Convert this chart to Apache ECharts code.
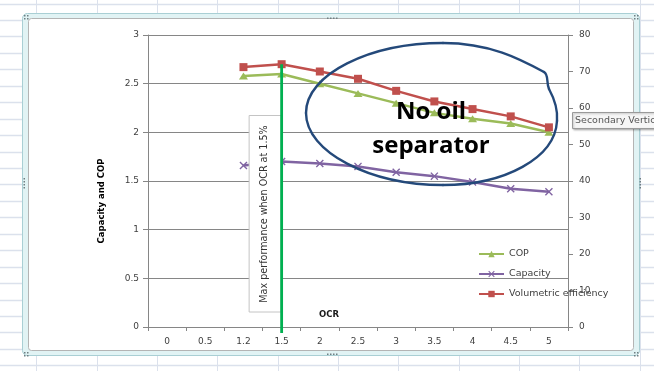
<!DOCTYPE html>
<html>
<head>
<meta charset="utf-8">
<script src="https://cdn.jsdelivr.net/npm/echarts@6/dist/echarts.min.js"></script>
<style>
  html, body { margin: 0; padding: 0; background: #ffffff; }
  #chart { width: 654px; height: 371px; }
</style>
</head>
<body>
<div id="chart"></div>
<script>
// Oil circulation ratio (OCR, %) categories
const ocr = ['0', '0.5', '1.2', '1.5', '2', '2.5', '3', '3.5', '4', '4.5', '5'];
// Coefficient of performance (left axis)
const cop = [null, null, 2.58, 2.60, 2.50, 2.40, 2.30, 2.20, 2.14, 2.09, 2.00];
// Cooling capacity (left axis)
const capacity = [null, null, 1.66, 1.70, 1.68, 1.65, 1.59, 1.55, 1.49, 1.42, 1.39];
// Volumetric efficiency, % (right axis)
const volEff = [null, null, 71.2, 72.0, 70.0, 68.0, 64.7, 61.8, 59.7, 57.7, 54.7];
// Value axis ranges
const leftRange = [0, 3, 0.5];
const rightRange = [0, 80, 10];

const FONT = 'DejaVu Sans';
const AXIS_GREY = '#868686';
const TEXT = '#404040';
const xMark = 'path://M0,1.2L1.2,0L5,3.8L8.8,0L10,1.2L6.2,5L10,8.8L8.8,10L5,6.2L1.2,10L0,8.8L3.8,5Z';

const chart = echarts.init(document.getElementById('chart'), null, { renderer: 'canvas' });

const option = {
  animation: false,
  backgroundColor: 'transparent',
  grid: { left: 148, top: 35, right: 86, bottom: 44, containLabel: false },
  legend: {
    orient: 'vertical',
    left: 473,
    top: 243,
    itemWidth: 25,
    itemHeight: 8,
    itemGap: 8,
    textStyle: { fontFamily: FONT, fontSize: 9.5, color: TEXT, lineHeight: 12 },
    data: ['COP', 'Capacity', 'Volumetric efficiency']
  },
  xAxis: {
    type: 'category',
    data: ocr,
    boundaryGap: true,
    axisLine: { show: true, lineStyle: { color: AXIS_GREY, width: 1 } },
    axisTick: { show: true, length: 4, alignWithLabel: false, lineStyle: { color: AXIS_GREY } },
    axisLabel: { fontFamily: FONT, fontSize: 9, color: TEXT, margin: 10, interval: 0 },
    splitLine: { show: false }
  },
  yAxis: [
    {
      type: 'value',
      min: leftRange[0], max: leftRange[1], interval: leftRange[2],
      position: 'left',
      axisLine: { show: true, lineStyle: { color: AXIS_GREY, width: 1 } },
      axisTick: { show: true, length: 5, lineStyle: { color: AXIS_GREY } },
      axisLabel: { fontFamily: FONT, fontSize: 9, color: TEXT, margin: 9 },
      splitLine: { show: true, lineStyle: { color: AXIS_GREY, width: 1 } }
    },
    {
      type: 'value',
      min: rightRange[0], max: rightRange[1], interval: rightRange[2],
      position: 'right',
      axisLine: { show: true, lineStyle: { color: AXIS_GREY, width: 1 } },
      axisTick: { show: true, length: 5, lineStyle: { color: AXIS_GREY } },
      axisLabel: { fontFamily: FONT, fontSize: 9, color: TEXT, margin: 11 },
      splitLine: { show: false }
    }
  ],
  series: [
    {
      name: 'COP', type: 'line', yAxisIndex: 0, data: cop,
      symbol: 'triangle', symbolSize: [9, 7],
      lineStyle: { color: '#9BBB59', width: 2.5 },
      itemStyle: { color: '#9BBB59' },
      z: 3
    },
    {
      name: 'Capacity', type: 'line', yAxisIndex: 0, data: capacity,
      symbol: xMark, symbolSize: 8,
      lineStyle: { color: '#8064A2', width: 2.5 },
      itemStyle: { color: '#8064A2' },
      z: 2
    },
    {
      name: 'Volumetric efficiency', type: 'line', yAxisIndex: 1, data: volEff,
      symbol: 'rect', symbolSize: 8,
      lineStyle: { color: '#C0504D', width: 2.5 },
      itemStyle: { color: '#C0504D' },
      z: 4
    }
  ]
};

chart.setOption(option);

// Positions of the annotation pieces derived from the axes
const xPeak = chart.convertToPixel({ xAxisIndex: 0 }, ocr[3]);
const yPeak = chart.convertToPixel({ yAxisIndex: 1 }, volEff[3]);
const yBase = chart.convertToPixel({ yAxisIndex: 0 }, leftRange[0]);

const W = 654, H = 371;
const sheetLines = [];
// worksheet cell grid behind the embedded chart
for (let y = 3.5; y < H; y += 16.45) {
  sheetLines.push({ type: 'line', z: -30, silent: true,
    shape: { x1: 0, y1: Math.round(y) + 0.5, x2: W, y2: Math.round(y) + 0.5 },
    style: { stroke: '#dbe1ec', lineWidth: 1.5 } });
}
for (let x = 36.3; x < W; x += 60.35) {
  sheetLines.push({ type: 'line', z: -30, silent: true,
    shape: { x1: Math.round(x) + 0.5, y1: 0, x2: Math.round(x) + 0.5, y2: H },
    style: { stroke: '#dbe1ec', lineWidth: 1 } });
}

// sizing handles on the chart frame
const handles = [];
function dots(cx, cy, horizontal, n) {
  for (let i = 0; i < n; i++) {
    handles.push({ type: 'rect', z: -18, silent: true,
      shape: { x: horizontal ? cx + i * 3 : cx, y: horizontal ? cy : cy + i * 3, width: 1.5, height: 1.5 },
      style: { fill: '#6f7f82' } });
  }
}
dots(327, 17.5, true, 4);
dots(327, 353.5, true, 4);
dots(639.5, 178, false, 4);
dots(23.5, 178, false, 4);
[[24, 15], [24, 352], [634, 15], [634, 352]].forEach(p => {
  dots(p[0], p[1], true, 2);
  dots(p[0], p[1] + 3, true, 2);
});

// hand-drawn ring around the high-OCR region, as cubic segments
const ringSegments = [
  [306, 113, 306, 74, 370, 43, 443, 43],
  [443, 43, 490, 43, 520, 59, 544, 72],
  [544, 72, 549, 75, 546, 82, 549, 89],
  [549, 89, 555, 100, 558, 110, 557, 121],
  [557, 121, 555, 158, 505, 185, 443, 185],
  [443, 185, 370, 185, 306, 152, 306, 113]
].map(s => ({
  type: 'bezierCurve', z: 70, silent: true,
  shape: { x1: s[0], y1: s[1], cpx1: s[2], cpy1: s[3], cpx2: s[4], cpy2: s[5], x2: s[6], y2: s[7] },
  style: { fill: null, stroke: '#24497A', lineWidth: 2.4, lineCap: 'round' }
}));

const graphics = [
  { type: 'rect', z: -31, silent: true, shape: { x: 0, y: 0, width: W, height: H }, style: { fill: '#ffffff' } },
  ...sheetLines,
  { type: 'rect', z: -20, silent: true,
    shape: { x: 22.5, y: 13.5, width: 617, height: 342, r: 5 },
    style: { fill: '#e1f3f4', stroke: '#a9cfd4', lineWidth: 1 } },
  { type: 'rect', z: -19, silent: true,
    shape: { x: 28.5, y: 18.5, width: 605, height: 332, r: 3 },
    style: { fill: '#ffffff', stroke: '#b4b4b4', lineWidth: 1 } },
  ...handles,
  // axis titles
  { type: 'text', z: 50, silent: true, x: 102, y: 201, rotation: Math.PI / 2,
    style: { text: 'Capacity and COP', fontFamily: FONT, fontSize: 8.5, fontWeight: 'bold', fill: '#000000',
      textAlign: 'center', textVerticalAlign: 'middle' } },
  { type: 'text', z: 50, silent: true, x: 329, y: 315,
    style: { text: 'OCR', fontFamily: FONT, fontSize: 8.5, fontWeight: 'bold', fill: '#1a1a1a',
      textAlign: 'center', textVerticalAlign: 'middle' } },
  // vertical marker at the best operating point
  { type: 'line', z: 60, silent: true,
    shape: { x1: xPeak, y1: yPeak, x2: xPeak, y2: yBase + 6 },
    style: { stroke: '#00B050', lineWidth: 2.8 } },
  // callout box with rotated note
  { type: 'rect', z: 59, silent: true,
    shape: { x: xPeak - 32.5, y: 115.5, width: 32, height: 196.5 },
    style: { fill: '#ffffff', stroke: '#c4c4c4', lineWidth: 1 } },
  { type: 'text', z: 61, silent: true, x: xPeak - 17, y: 214, rotation: Math.PI / 2,
    style: { text: 'Max performance when OCR at 1.5%', fontFamily: FONT, fontSize: 9.6, fill: '#333333',
      textAlign: 'center', textVerticalAlign: 'middle' } },
  ...ringSegments,
  { type: 'text', z: 71, silent: true, x: 431, y: 112,
    style: { text: 'No oil', fontFamily: 'Open Sans', fontSize: 24, fontWeight: 'bold', fill: '#000000',
      textAlign: 'center', textVerticalAlign: 'middle' } },
  { type: 'text', z: 71, silent: true, x: 431, y: 146,
    style: { text: 'separator', fontFamily: 'Open Sans', fontSize: 24, fontWeight: 'bold', fill: '#000000',
      textAlign: 'center', textVerticalAlign: 'middle' } },
  // hover hint on the right axis
  { type: 'rect', z: 80, silent: true,
    shape: { x: 572.5, y: 112.5, width: 100, height: 16 },
    style: { fill: '#f6f6f6', stroke: '#9a9a9a', lineWidth: 1, shadowBlur: 2, shadowColor: 'rgba(0,0,0,0.25)', shadowOffsetX: 1, shadowOffsetY: 1 } },
  { type: 'text', z: 81, silent: true, x: 575, y: 121,
    style: { text: 'Secondary Vertical Axis', fontFamily: FONT, fontSize: 9.5, fill: '#555555',
      textAlign: 'left', textVerticalAlign: 'middle' } }
];

chart.setOption({ graphic: graphics });
</script>
</body>
</html>
